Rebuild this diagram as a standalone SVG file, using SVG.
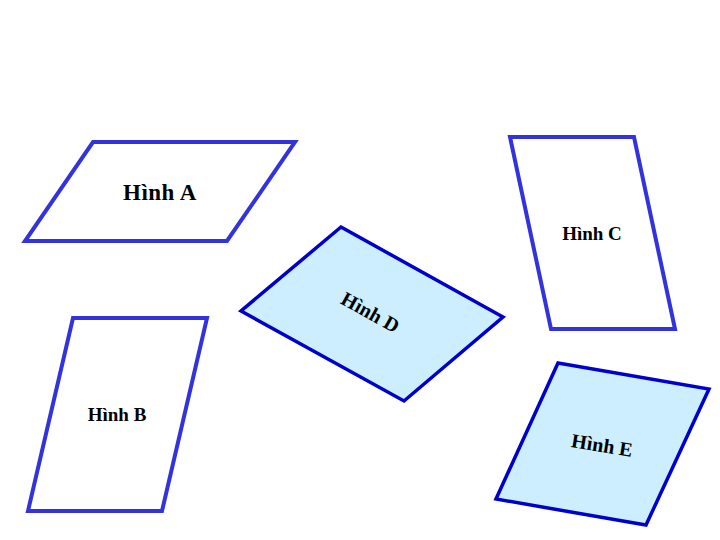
<svg xmlns="http://www.w3.org/2000/svg" width="720" height="540" viewBox="0 0 720 540">
<style>
.lt{fill:#ffffff;stroke:#3333dd;stroke-width:4}
.dk{fill:#cceeff;stroke:#0000cc;stroke-width:3.5}
text{font-family:"Liberation Serif","Times New Roman",serif;fill:#000;font-weight:bold}
</style>
<rect width="720" height="540" fill="#fff"/>
<g id="hinhA"><polygon class="lt" points="93,142 295,142 227,241 25,241"/><text x="160" y="200" font-size="23" letter-spacing="0.5" text-anchor="middle">Hình A</text></g>
<g id="hinhB"><polygon class="lt" points="73,318 207,318 162,511 28,511"/><text x="117" y="421" font-size="19" text-anchor="middle">Hình B</text></g>
<g id="hinhC"><polygon class="lt" points="510,137 634,137 675,329 551,329"/><text x="592" y="240" font-size="19" text-anchor="middle">Hình C</text></g>
<g id="hinhD"><polygon class="dk" points="341,227 503,317 404,401 241,311"/><text x="370" y="319" font-size="20" text-anchor="middle" transform="rotate(29 370 313)">Hình D</text></g>
<g id="hinhE"><polygon class="dk" points="558,363 709,389 646,525 496,499"/><text x="602" y="452" font-size="20" text-anchor="middle" transform="rotate(9 602 446)">Hình E</text></g>
<g id="connectors"/>
</svg>
